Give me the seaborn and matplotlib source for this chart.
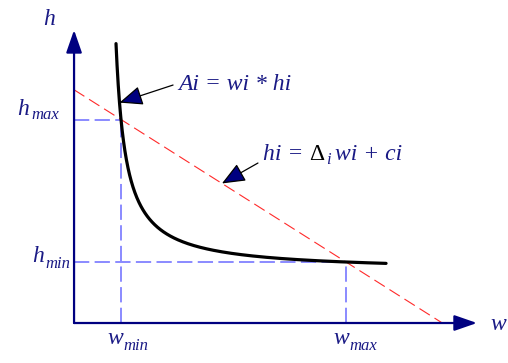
import numpy as np
import pandas as pd
import matplotlib
matplotlib.use("Agg")
import matplotlib.pyplot as plt
from matplotlib.transforms import offset_copy
import seaborn as sns

sns.set_theme(style="white")
plt.rcParams["font.family"] = ["Liberation Serif", "DejaVu Serif"]

# Constant area curve A = w * h
area = 16.0
w_min, w_max = 1.0, 16.0
h_max, h_min = 16.0, 1.0
w_curve_start, w_curve_end = 0.667, 18.67

# Straight line h = delta * w + c through (w_min, h_max) and (w_max, h_min)
delta = -1.0
c = 17.0

# Where the two axes meet and where they end
origin_w, origin_h = -2.13, -5.42
w_axis_end, h_axis_end = 24.73, 25.42

NAVY = "#000080"
TEXT = "#1a1a85"
BLUE = "#6b6bff"
RED = "#ff2a2a"

fig = plt.figure(figsize=(5.08, 3.63), dpi=100)
ax = fig.add_axes([0, 0, 1, 1])
ax.set_xlim(-7.067, 26.8)
ax.set_ylim(-9.63, 28.58)
ax.axis("off")
renderer = fig.canvas.get_renderer()

# hyperbola
w_vals = np.geomspace(w_curve_start, w_curve_end, 300)
curve = pd.DataFrame({"w": w_vals, "h": area / w_vals})
sns.lineplot(data=curve, x="w", y="h", sort=False, color="black",
             linewidth=2.3, ax=ax, zorder=4)

# straight line from the h axis down to the w axis
w_hit = (origin_h - c) / delta
line = pd.DataFrame({"w": [origin_w, w_hit],
                     "h": [delta * origin_w + c, origin_h]})
sns.lineplot(data=line, x="w", y="h", sort=False, color=RED,
             linewidth=0.8, ax=ax, zorder=3)
ax.lines[-1].set_dashes((11, 5))

# guide lines to the axes
guide_kw = dict(color=BLUE, linewidth=1.1, dashes=(10, 3.5), zorder=2)
ax.plot([origin_w, w_min], [h_max, h_max], **guide_kw)
ax.plot([w_min, w_min], [origin_h, h_max], **guide_kw)
ax.plot([origin_w, w_max], [h_min, h_min], **guide_kw)
ax.plot([w_max, w_max], [origin_h, h_min], **guide_kw)

# axes with arrow heads
axis_arrow = dict(arrowstyle="-|>,head_length=1.15,head_width=0.4",
                  color=NAVY, lw=1.6, shrinkA=0, shrinkB=0)
ax.annotate("", xy=(w_axis_end, origin_h), xytext=(origin_w, origin_h),
            arrowprops=axis_arrow, zorder=5)
ax.annotate("", xy=(origin_w, h_axis_end), xytext=(origin_w, origin_h),
            arrowprops=axis_arrow, zorder=5)

FS, SUB_FS = 17, 12


def label(x, y, main, sub=None, drop=5, gap=1):
    """Italic symbol with an optional lowered, smaller subscript."""
    t = ax.text(x, y, main, ha="left", va="baseline", color=TEXT,
                fontsize=FS, fontstyle="italic")
    if sub:
        width = t.get_window_extent(renderer).width
        tr = offset_copy(ax.transData, fig=fig, x=width + gap, y=-drop,
                         units="dots")
        ax.text(x, y, sub, transform=tr, ha="left", va="baseline",
                color=TEXT, fontsize=SUB_FS, fontstyle="italic")


label(-4.2, 25.95, "h")
label(25.6, -6.16, "w")
label(-5.93, 16.47, "h", "max", drop=4, gap=2)
label(-4.93, 1.0, "h", "min", drop=6, gap=1)
label(0.067, -7.63, "w", "min", drop=6)
label(15.13, -7.63, "w", "max", drop=6)

# callouts
pointer = dict(arrowstyle="-|>,head_length=1.2,head_width=0.5",
               lw=0.9, shrinkA=0, shrinkB=0, fc=NAVY, ec="black")
ax.annotate("", xy=(0.9, area / 0.9), xytext=(4.47, 19.63),
            arrowprops=pointer, zorder=6)
ax.text(4.8, 19.1, "Ai = wi * hi", ha="left", va="baseline",
        fontstyle="italic", color=TEXT, fontsize=FS)

w_tip = 7.73
ax.annotate("", xy=(w_tip, delta * w_tip + c), xytext=(10.13, 11.42),
            arrowprops=pointer, zorder=6)

# hi = Δ_i wi + ci, with the Δ in black
eq_w, eq_h = 10.47, 11.74
eq_parts = [("hi =", TEXT, FS, "italic", 0, 0),
            ("\u0394", "black", FS, "normal", 46, 0),
            ("i", TEXT, SUB_FS, "italic", 63, -4),
            ("wi + ci", TEXT, FS, "italic", 72, 0)]
for s, col, size, style, dx, dy in eq_parts:
    tr = offset_copy(ax.transData, fig=fig, x=dx, y=dy, units="dots")
    ax.text(eq_w, eq_h, s, transform=tr, ha="left", va="baseline",
            color=col, fontsize=size, fontstyle=style)

fig.savefig("out.png", dpi=100)
